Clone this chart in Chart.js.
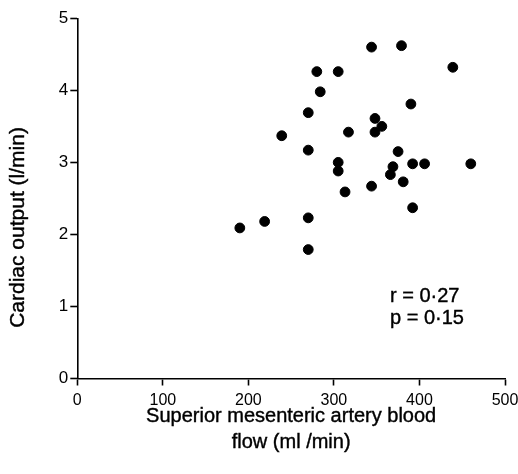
<!DOCTYPE html>
<html><head><meta charset="utf-8">
<script src="https://cdn.jsdelivr.net/npm/chart.js@4.4.0/dist/chart.umd.min.js"></script>
<style>html,body{margin:0;padding:0;background:#fff}#wrap{width:518px;height:474px}</style>
</head><body><div id="wrap"><canvas id="c" width="518" height="474"></canvas></div>
<script>
const smaFlow = [344, 379, 439, 280, 305, 284, 390, 270, 348, 356, 348, 317, 239, 270, 375, 305, 305, 369, 366, 392, 406, 460, 381, 344, 313, 392, 270, 219, 190, 270];
const cardiacOutput = [4.60, 4.62, 4.32, 4.26, 4.26, 3.98, 3.81, 3.69, 3.61, 3.50, 3.42, 3.42, 3.37, 3.17, 3.15, 3.00, 2.88, 2.94, 2.83, 2.98, 2.98, 2.98, 2.73, 2.67, 2.59, 2.37, 2.23, 2.18, 2.09, 1.79];
const xTickValues = [0, 100, 200, 300, 400, 500];
const yTickValues = [0, 1, 2, 3, 4, 5];
const xTitle = ['Superior mesenteric artery blood', 'flow (ml /min)'];
const yTitle = 'Cardiac output (l/min)';
const statsText = ['r = 0·27', 'p = 0·15'];

const FONT = '"Liberation Sans", Arial, Helvetica, sans-serif';
const INK = '#000';

const points = smaFlow.map((x, i) => ({x: x, y: cardiacOutput[i]}));

function heavyText(ctx, s, x, y) {
  ctx.fillText(s, x, y);
  ctx.strokeText(s, x, y);
}

const extraText = {
  id: 'extraText',
  afterDraw(chart) {
    const ctx = chart.ctx;
    const area = chart.chartArea;
    ctx.save();
    ctx.fillStyle = INK;
    ctx.strokeStyle = INK;
    ctx.lineWidth = 0.4;
    ctx.font = '21px ' + FONT;
    ctx.translate(18.5, 227.5);
    ctx.rotate(-Math.PI / 2);
    ctx.textAlign = 'center';
    ctx.textBaseline = 'middle';
    heavyText(ctx, yTitle, 0, 0);
    ctx.restore();

    ctx.save();
    ctx.fillStyle = INK;
    ctx.strokeStyle = INK;
    ctx.lineWidth = 0.4;
    ctx.font = '20px ' + FONT;
    ctx.textAlign = 'center';
    ctx.textBaseline = 'middle';
    const cx = (area.left + area.right) / 2;
    heavyText(ctx, xTitle[0], cx, 416);
    heavyText(ctx, xTitle[1], cx, 442);
    ctx.restore();

    ctx.save();
    ctx.fillStyle = INK;
    ctx.strokeStyle = INK;
    ctx.lineWidth = 0.4;
    ctx.font = '20px ' + FONT;
    ctx.textAlign = 'left';
    ctx.textBaseline = 'alphabetic';
    heavyText(ctx, statsText[0], 390, 302);
    heavyText(ctx, statsText[1], 390, 324);
    ctx.restore();
  }
};

new Chart(document.getElementById('c'), {
  type: 'scatter',
  data: {
    datasets: [{
      data: points,
      backgroundColor: '#000',
      borderColor: '#000',
      borderWidth: 1,
      pointRadius: 4.9,
      pointHoverRadius: 4.9
    }]
  },
  options: {
    responsive: false,
    animation: false,
    devicePixelRatio: 1,
    layout: {padding: {top: 18.3, right: 13, left: 0, bottom: 0}},
    plugins: {legend: {display: false}, tooltip: {enabled: false}},
    scales: {
      x: {
        type: 'linear', min: 0, max: 500,
        afterBuildTicks(scale) { scale.ticks = xTickValues.map(v => ({value: v})); },
        afterFit(scale) { scale.height = 95.5; scale.paddingLeft = 0; scale.paddingRight = 0; },
        border: {display: true, color: '#000', width: 1.6},
        grid: {display: true, drawOnChartArea: false, drawTicks: true, tickLength: 7, tickColor: '#000', tickWidth: 1.6},
        ticks: {color: INK, font: {family: FONT, size: 16}, padding: 5, maxRotation: 0},
        title: {display: false}
      },
      y: {
        type: 'linear', min: 0, max: 5,
        afterBuildTicks(scale) { scale.ticks = yTickValues.map(v => ({value: v})); },
        afterFit(scale) { scale.width = 77.3; scale.paddingTop = 0; scale.paddingBottom = 0; },
        border: {display: true, color: '#000', width: 1.6},
        grid: {display: true, drawOnChartArea: false, drawTicks: true, tickLength: 7, tickColor: '#000', tickWidth: 1.6},
        ticks: {color: INK, font: {family: FONT, size: 17}, padding: 2},
        title: {display: false}
      }
    }
  },
  plugins: [extraText]
});
</script>
</body></html>
